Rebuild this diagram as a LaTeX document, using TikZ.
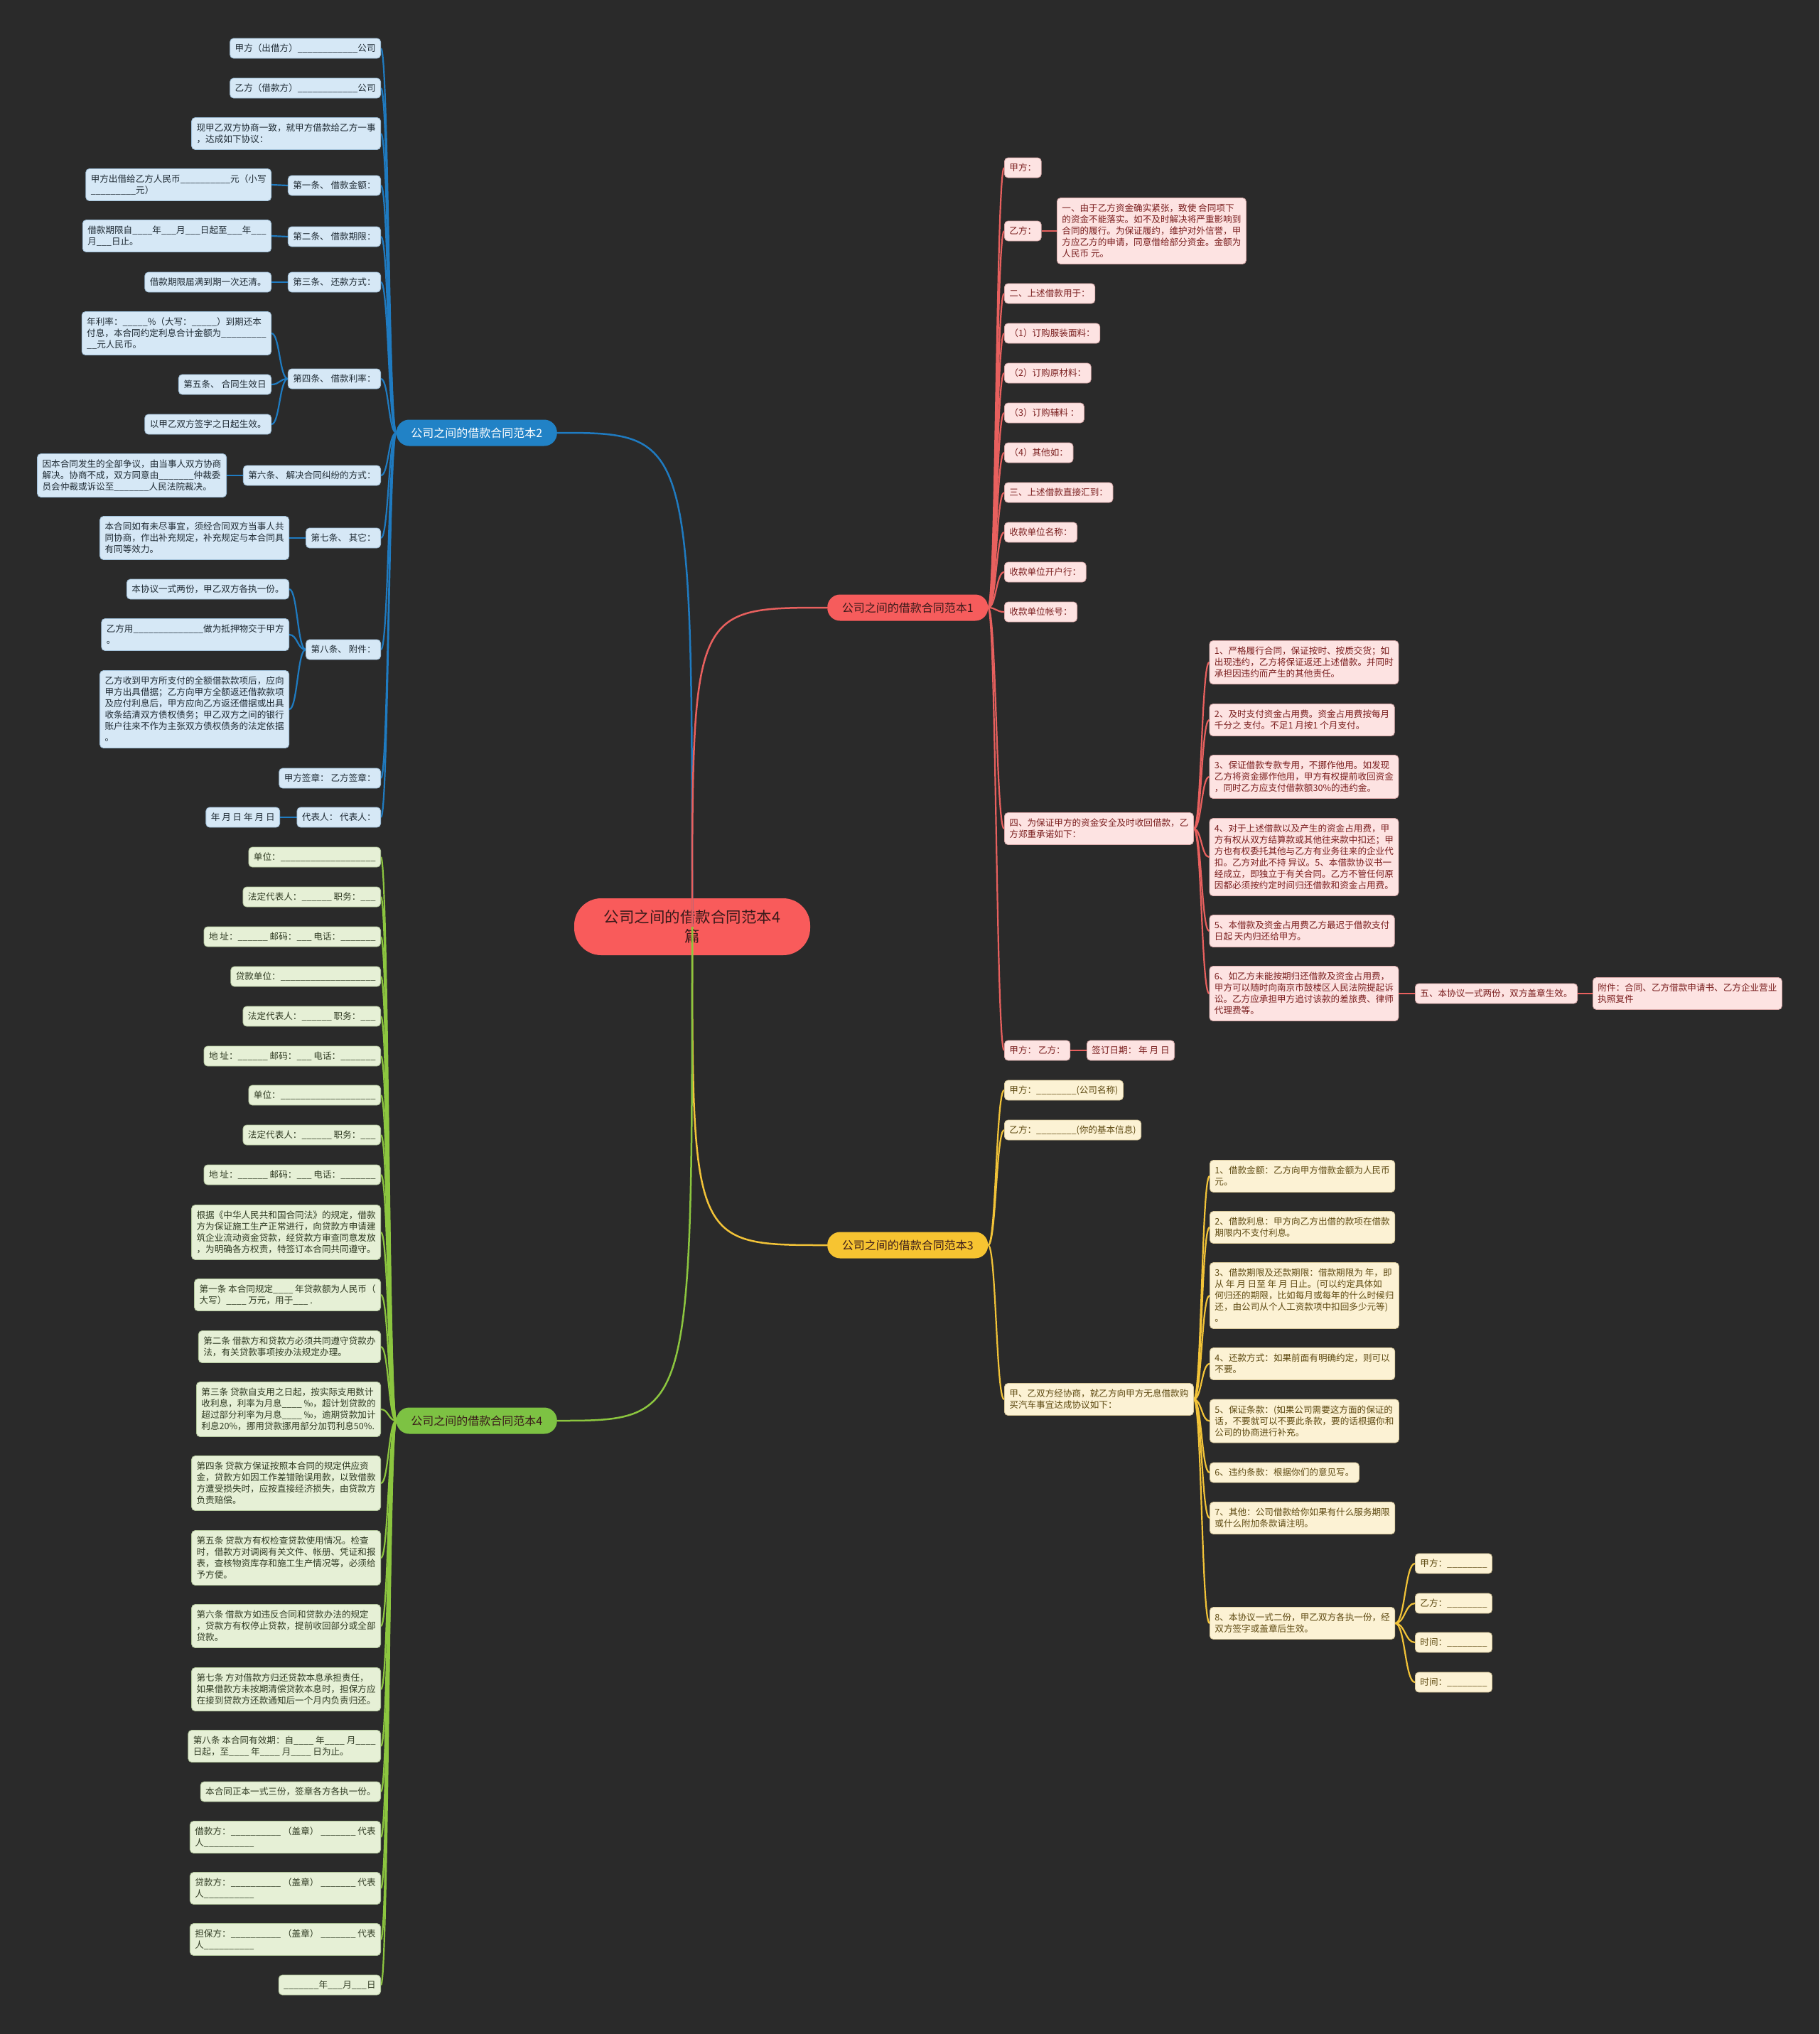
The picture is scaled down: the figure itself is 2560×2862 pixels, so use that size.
\documentclass[tikz,border=0pt]{standalone}
\usepackage{fontspec}
\setmainfont{Noto Sans CJK SC}
\usetikzlibrary{calc}
\pgfdeclarelayer{back}\pgfdeclarelayer{bg}
\pgfsetlayers{back,bg,main}
\definecolor{bgc}{HTML}{2A2A2A}
\definecolor{bline}{HTML}{1F7BC1}\definecolor{bmain}{HTML}{2182C6}\definecolor{bleaf}{HTML}{D6E8F6}\definecolor{btext}{HTML}{1E2A33}\definecolor{bedge}{HTML}{9FBFD8}
\definecolor{rline}{HTML}{E8605E}\definecolor{rmain}{HTML}{F65C5C}\definecolor{rleaf}{HTML}{FDE3E2}\definecolor{rtext}{HTML}{7A1E1E}\definecolor{redge}{HTML}{D8A8A8}
\definecolor{yline}{HTML}{F2C338}\definecolor{ymain}{HTML}{F7C431}\definecolor{yleaf}{HTML}{FCF2D4}\definecolor{ytext}{HTML}{5E4A12}\definecolor{yedge}{HTML}{D8C89A}
\definecolor{gline}{HTML}{8CC63F}\definecolor{gmain}{HTML}{7DC243}\definecolor{gleaf}{HTML}{E6F0D6}\definecolor{gtext}{HTML}{2F3A22}\definecolor{gedge}{HTML}{B0C49A}
\definecolor{cfill}{HTML}{F95B5B}\definecolor{ctext}{HTML}{3A1A1A}
\newcount\uscnt
\newcommand\us[1]{\uscnt=#1\relax\loop\ifnum\uscnt>0 \_\advance\uscnt by -1\relax\repeat}
\newcommand\lk[3]{\draw[#1] let \p1=(#2), \p2=(#3), \n1={(\x1+\x2)/2} in (\p1) .. controls (\n1,\y1) and (\n1,\y2) .. (\p2);}
\tikzset{
  leaf/.style={rounded corners=5, inner xsep=7, inner ysep=0, align=left, line width=0.8, font=\fontsize{12.6}{16}\selectfont},
  n1/.style={minimum height=28}, n2/.style={minimum height=45}, n3/.style={minimum height=61},
  n4/.style={minimum height=77}, n5/.style={minimum height=93}, n6/.style={minimum height=109},
  bl/.style={leaf, fill=bleaf, draw=bedge, text=btext, anchor=east},
  rl/.style={leaf, fill=rleaf, draw=redge, text=rtext, anchor=west},
  yl/.style={leaf, fill=yleaf, draw=yedge, text=ytext, anchor=west},
  gl/.style={leaf, fill=gleaf, draw=gedge, text=gtext, anchor=east},
  mainb/.style={rounded corners=18, minimum height=37, minimum width=226, inner xsep=10, font=\fontsize{16}{19}\selectfont},
  cl/.style={line width=2.2},
  ml/.style={line width=2.5}
}
\begin{document}
\begin{tikzpicture}[x=1pt,y=-1pt]
\begin{pgfonlayer}{back}
\fill[bgc] (0,0) rectangle (2560,2862);
\end{pgfonlayer}
\useasboundingbox (0,0) rectangle (2560,2862);
% center
\node[fill=cfill, text=ctext, rounded corners=38, minimum width=332, minimum height=80, align=center, font=\fontsize{21.5}{27}\selectfont] (c) at (974,1304) {公司之间的借款合同范本4\\篇};
% main branches
\node[mainb, fill=bmain, text=white, anchor=east] (bm) at (784,609) {公司之间的借款合同范本2};
\node[mainb, fill=rmain, text=ctext, anchor=west] (rm) at (1164,855) {公司之间的借款合同范本1};
\node[mainb, fill=ymain, text=ctext, anchor=west] (ym) at (1164,1752) {公司之间的借款合同范本3};
\node[mainb, fill=gmain, text=ctext, anchor=east] (gm) at (784,1999) {公司之间的借款合同范本4};
% blue leaves
\node[bl,n1] (b1) at (536,68) {甲方（出借方）\us{12}公司};
\node[bl,n1] (b2) at (536,124) {乙方（借款方）\us{12}公司};
\node[bl,n2] (b3) at (536,188) {现甲乙双方协商一致，就甲方借款给乙方一事\\，达成如下协议：};
\node[bl,n1] (b4) at (536,261) {第一条、 借款金额：};
\node[bl,n1] (b5) at (536,333) {第二条、 借款期限：};
\node[bl,n1] (b6) at (536,397) {第三条、 还款方式：};
\node[bl,n1] (b7) at (536,533) {第四条、 借款利率：};
\node[bl,n1] (b8) at (536,669) {第六条、 解决合同纠纷的方式：};
\node[bl,n1] (b9) at (536,757) {第七条、 其它：};
\node[bl,n1] (b10) at (536,914) {第八条、 附件：};
\node[bl,n1] (b11) at (536,1095) {甲方签章： 乙方签章：};
\node[bl,n1] (b12) at (536,1150) {代表人： 代表人：};
\node[bl,n2] (b4a) at (382,260) {甲方出借给乙方人民币\us{10}元（小写\\\us{9}元）};
\node[bl,n2] (b5a) at (382,332) {借款期限自\us{4}年\us{3}月\us{3}日起至\us{3}年\us{3}\\月\us{3}日止。};
\node[bl,n1] (b6a) at (382,397) {借款期限届满到期一次还清。};
\node[bl,n3] (b7a) at (382,469) {年利率：\us{5}\%（大写：\us{5}）到期还本\\付息，本合同约定利息合计金额为\us{9}\\\us{2}元人民币。};
\node[bl,n1] (b7b) at (382,541) {第五条、 合同生效日};
\node[bl,n1] (b7c) at (382,597) {以甲乙双方签字之日起生效。};
\node[bl,n3] (b8a) at (319,669) {因本合同发生的全部争议，由当事人双方协商\\解决。协商不成，双方同意由\us{7}仲裁委\\员会仲裁或诉讼至\us{7}人民法院裁决。};
\node[bl,n3] (b9a) at (407,757) {本合同如有未尽事宜，须经合同双方当事人共\\同协商，作出补充规定，补充规定与本合同具\\有同等效力。};
\node[bl,n1] (b10a) at (407,829) {本协议一式两份，甲乙双方各执一份。};
\node[bl,n2] (b10b) at (407,893) {乙方用\us{14}做为抵押物交于甲方\\。};
\node[bl,n6] (b10c) at (407,998) {乙方收到甲方所支付的全额借款款项后，应向\\甲方出具借据；乙方向甲方全额返还借款款项\\及应付利息后，甲方应向乙方返还借据或出具\\收条结清双方债权债务；甲乙双方之间的银行\\账户往来不作为主张双方债权债务的法定依据\\。};
\node[bl,n1] (b12a) at (394,1150) {年 月 日 年 月 日};
% red leaves
\node[rl,n1] (r1) at (1413,236) {甲方：};
\node[rl,n1] (r2) at (1413,325) {乙方：};
\node[rl,n5] (r2a) at (1487,325) {一、由于乙方资金确实紧张，致使 合同项下\\的资金不能落实。如不及时解决将严重影响到\\合同的履行。为保证履约，维护对外信誉，甲\\方应乙方的申请，同意借给部分资金。金额为\\人民币 元。};
\node[rl,n1] (r3) at (1413,413) {二、上述借款用于：};
\node[rl,n1] (r4) at (1413,469) {（1）订购服装面料：};
\node[rl,n1] (r5) at (1413,525) {（2）订购原材料：};
\node[rl,n1] (r6) at (1413,581) {（3）订购辅料 ：};
\node[rl,n1] (r7) at (1413,637) {（4）其他如：};
\node[rl,n1] (r8) at (1413,693) {三、上述借款直接汇到：};
\node[rl,n1] (r9) at (1413,749) {收款单位名称：};
\node[rl,n1] (r10) at (1413,805) {收款单位开户行：};
\node[rl,n1] (r11) at (1413,861) {收款单位帐号：};
\node[rl,n2] (r12) at (1413,1166) {四、为保证甲方的资金安全及时收回借款，乙\\方郑重承诺如下：};
\node[rl,n1] (r15) at (1413,1478) {甲方： 乙方：};
\node[rl,n1] (r15a) at (1529,1478) {签订日期： 年 月 日};
\node[rl,n3] (r12a) at (1701.5,932) {1、严格履行合同，保证按时、按质交货；如\\出现违约，乙方将保证返还上述借款。并同时\\承担因违约而产生的其他责任。};
\node[rl,n2] (r12b) at (1701.5,1013) {2、及时支付资金占用费。资金占用费按每月\\千分之 支付。不足1 月按1 个月支付。};
\node[rl,n3] (r12c) at (1701.5,1093) {3、保证借款专款专用，不挪作他用。如发现\\乙方将资金挪作他用，甲方有权提前收回资金\\，同时乙方应支付借款额30\%的违约金。};
\node[rl,n6] (r12d) at (1701.5,1206) {4、对于上述借款以及产生的资金占用费，甲\\方有权从双方结算款或其他往来款中扣还；甲\\方也有权委托其他与乙方有业务往来的企业代\\扣。乙方对此不持 异议。5、本借款协议书一\\经成立，即独立于有关合同。乙方不管任何原\\因都必须按约定时间归还借款和资金占用费。};
\node[rl,n2] (r12e) at (1701.5,1310) {5、本借款及资金占用费乙方最迟于借款支付\\日起 天内归还给甲方。};
\node[rl,n4] (r12f) at (1701.5,1398) {6、如乙方未能按期归还借款及资金占用费，\\甲方可以随时向南京市鼓楼区人民法院提起诉\\讼。乙方应承担甲方追讨该款的差旅费、律师\\代理费等。};
\node[rl,n1] (r13) at (1991,1398) {五、本协议一式两份，双方盖章生效。};
\node[rl,n2] (r14) at (2241,1398) {附件：合同、乙方借款申请书、乙方企业营业\\执照复件};
% yellow leaves
\node[yl,n1] (y1) at (1413,1534) {甲方：\us{8}(公司名称)};
\node[yl,n1] (y2) at (1413,1590) {乙方：\us{8}(你的基本信息)};
\node[yl,n2] (y3) at (1413,1969) {甲、乙双方经协商，就乙方向甲方无息借款购\\买汽车事宜达成协议如下：};
\node[yl,n2] (y3a) at (1702,1655) {1、借款金额：乙方向甲方借款金额为人民币\\元。};
\node[yl,n2] (y3b) at (1702,1727) {2、借款利息：甲方向乙方出借的款项在借款\\期限内不支付利息。};
\node[yl,n5] (y3c) at (1702,1823) {3、借款期限及还款期限：借款期限为 年，即\\从 年 月 日至 年 月 日止。(可以约定具体如\\何归还的期限，比如每月或每年的什么时候归\\还，由公司从个人工资款项中扣回多少元等)\\。};
\node[yl,n2] (y3d) at (1702,1919) {4、还款方式：如果前面有明确约定，则可以\\不要。};
\node[yl,n3] (y3e) at (1702,1999.5) {5、保证条款：(如果公司需要这方面的保证的\\话，不要就可以不要此条款，要的话根据你和\\公司的协商进行补充。};
\node[yl,n1] (y3f) at (1702,2072) {6、违约条款：根据你们的意见写。};
\node[yl,n2] (y3g) at (1702,2136) {7、其他：公司借款给你如果有什么服务期限\\或什么附加条款请注明。};
\node[yl,n2] (y3h) at (1702,2284) {8、本协议一式二份，甲乙双方各执一份，经\\双方签字或盖章后生效。};
\node[yl,n1] (y4a) at (1991,2200) {甲方：\us{8}};
\node[yl,n1] (y4b) at (1991,2256) {乙方：\us{8}};
\node[yl,n1] (y4c) at (1991,2311) {时间：\us{8}};
\node[yl,n1] (y4d) at (1991,2367) {时间：\us{8}};
% green leaves
\node[gl,n1] (g1) at (536,1206) {单位：\us{19}};
\node[gl,n1] (g2) at (536,1262) {法定代表人：\us{6} 职务：\us{3}};
\node[gl,n1] (g3) at (536,1318) {地 址：\us{6} 邮码：\us{3} 电话：\us{7}};
\node[gl,n1] (g4) at (536,1374) {贷款单位：\us{19}};
\node[gl,n1] (g5) at (536,1430) {法定代表人：\us{6} 职务：\us{3}};
\node[gl,n1] (g6) at (536,1486) {地 址：\us{6} 邮码：\us{3} 电话：\us{7}};
\node[gl,n1] (g7) at (536,1541) {单位：\us{19}};
\node[gl,n1] (g8) at (536,1597) {法定代表人：\us{6} 职务：\us{3}};
\node[gl,n1] (g9) at (536,1653) {地 址：\us{6} 邮码：\us{3} 电话：\us{7}};
\node[gl,n4] (g10) at (536,1734) {根据《中华人民共和国合同法》的规定，借款\\方为保证施工生产正常进行，向贷款方申请建\\筑企业流动资金贷款，经贷款方审查同意发放\\，为明确各方权责，特签订本合同共同遵守。};
\node[gl,n2] (g11) at (536,1822) {第一条 本合同规定\us{4} 年贷款额为人民币（\\大写）\us{4} 万元，用于\us{3} .};
\node[gl,n2] (g12) at (536,1895) {第二条 借款方和贷款方必须共同遵守贷款办\\法，有关贷款事项按办法规定办理。};
\node[gl,n4] (g13) at (536,1983) {第三条 贷款自支用之日起，按实际支用数计\\收利息，利率为月息\us{4} ‰，超计划贷款的\\超过部分利率为月息\us{4} ‰，逾期贷款加计\\利息20\%，挪用贷款挪用部分加罚利息50\%.};
\node[gl,n4] (g14) at (536,2087) {第四条 贷款方保证按照本合同的规定供应资\\金，贷款方如因工作差错贻误用款，以致借款\\方遭受损失时，应按直接经济损失，由贷款方\\负责赔偿。};
\node[gl,n4] (g15) at (536,2192) {第五条 贷款方有权检查贷款使用情况。检查\\时，借款方对调阅有关文件、帐册、凭证和报\\表，查核物资库存和施工生产情况等，必须给\\予方便。};
\node[gl,n3] (g16) at (536,2288) {第六条 借款方如违反合同和贷款办法的规定\\，贷款方有权停止贷款，提前收回部分或全部\\贷款。};
\node[gl,n3] (g17) at (536,2377) {第七条 方对借款方归还贷款本息承担责任，\\如果借款方未按期清偿贷款本息时，担保方应\\在接到贷款方还款通知后一个月内负责归还。};
\node[gl,n2] (g18) at (536,2457) {第八条 本合同有效期：自\us{4} 年\us{4} 月\us{4}\\日起，至\us{4} 年\us{4} 月\us{4} 日为止。};
\node[gl,n1] (g19) at (536,2521) {本合同正本一式三份，签章各方各执一份。};
\node[gl,n2] (g20) at (536,2585) {借款方：\us{10} （盖章） \us{7} 代表\\人\us{10}};
\node[gl,n2] (g21) at (536,2657) {贷款方：\us{10} （盖章） \us{7} 代表\\人\us{10}};
\node[gl,n2] (g22) at (536,2729) {担保方：\us{10} （盖章） \us{7} 代表\\人\us{10}};
\node[gl,n1] (g23) at (536,2793) {\us{7}年\us{3}月\us{3}日};
% connectors
\begin{pgfonlayer}{bg}
\foreach \q in {b1,b2,b3,b4,b5,b6,b7,b8,b9,b10,b11,b12} {\lk{bline,cl}{bm.west}{\q.east}}
\lk{bline,cl}{b4.west}{b4a.east}
\lk{bline,cl}{b5.west}{b5a.east}
\lk{bline,cl}{b6.west}{b6a.east}
\foreach \q in {b7a,b7b,b7c} {\lk{bline,cl}{b7.west}{\q.east}}
\lk{bline,cl}{b8.west}{b8a.east}
\lk{bline,cl}{b9.west}{b9a.east}
\foreach \q in {b10a,b10b,b10c} {\lk{bline,cl}{b10.west}{\q.east}}
\lk{bline,cl}{b12.west}{b12a.east}
\foreach \q in {r1,r2,r3,r4,r5,r6,r7,r8,r9,r10,r11,r12,r15} {\lk{rline,cl}{rm.east}{\q.west}}
\lk{rline,cl}{r2.east}{r2a.west}
\foreach \q in {r12a,r12b,r12c,r12d,r12e,r12f} {\lk{rline,cl}{r12.east}{\q.west}}
\lk{rline,cl}{r12f.east}{r13.west}
\lk{rline,cl}{r13.east}{r14.west}
\lk{rline,cl}{r15.east}{r15a.west}
\foreach \q in {y1,y2,y3} {\lk{yline,cl}{ym.east}{\q.west}}
\foreach \q in {y3a,y3b,y3c,y3d,y3e,y3f,y3g,y3h} {\lk{yline,cl}{y3.east}{\q.west}}
\foreach \q in {y4a,y4b,y4c,y4d} {\lk{yline,cl}{y3h.east}{\q.west}}
\foreach \q in {g1,g2,g3,g4,g5,g6,g7,g8,g9,g10,g11,g12,g13,g14,g15,g16,g17,g18,g19,g20,g21,g22,g23} {\lk{gline,cl}{gm.west}{\q.east}}
\end{pgfonlayer}
% main curves (drawn over the center node)
\draw[bline,ml] (c.center) .. controls (c.center |- bm.east) .. (bm.east);
\draw[rline,ml] (c.center) .. controls (c.center |- rm.west) .. (rm.west);
\draw[yline,ml] (c.center) .. controls (c.center |- ym.west) .. (ym.west);
\draw[gline,ml] (c.center) .. controls (c.center |- gm.east) .. (gm.east);
\end{tikzpicture}
\end{document}
